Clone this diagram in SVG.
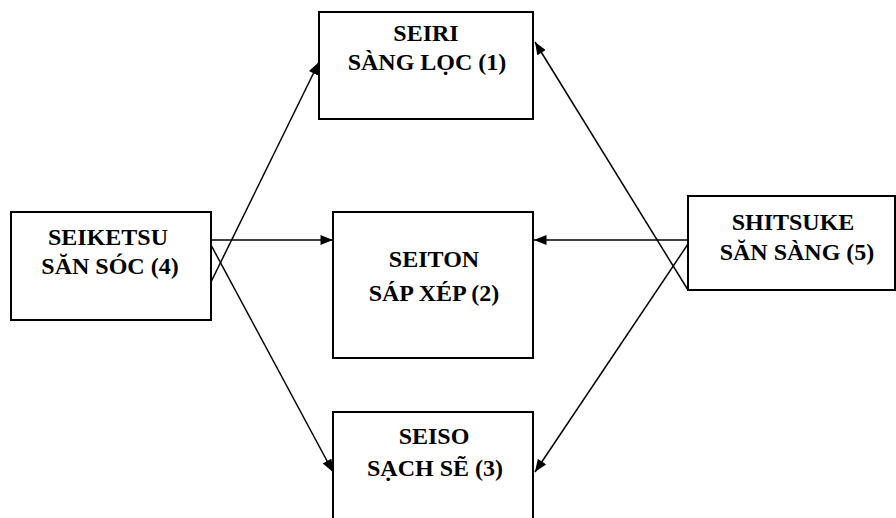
<svg xmlns="http://www.w3.org/2000/svg" width="896" height="518" viewBox="0 0 896 518">
  <style>
    .box { fill: #ffffff; stroke: #000000; stroke-width: 2; }
    .lbl { font-family: "Liberation Serif", "Times New Roman", serif; font-weight: bold; font-size: 24px; fill: #000000; text-anchor: middle; }
    .edge { stroke: #000000; stroke-width: 1.5; fill: none; marker-end: url(#head); }
  </style>
  <defs>
    <marker id="head" viewBox="0 0 10 8" refX="10" refY="4" markerUnits="userSpaceOnUse" markerWidth="13" markerHeight="10" orient="auto">
      <path d="M0,0 L10,4 L0,8 Z" fill="#000000"/>
    </marker>
  </defs>
  <rect width="896" height="518" fill="#ffffff"/>

  <g id="connectors">
    <line class="edge" x1="211" y1="240" x2="333" y2="240"/>
    <line class="edge" x1="688" y1="240" x2="534" y2="240"/>
    <line class="edge" x1="211" y1="282" x2="319" y2="62"/>
    <line class="edge" x1="211" y1="245" x2="333" y2="472"/>
    <line class="edge" x1="688" y1="290" x2="535" y2="42"/>
    <line class="edge" x1="688" y1="244" x2="535" y2="472"/>
  </g>

  <g id="seiri">
    <rect class="box" x="319" y="12" width="214" height="107"/>
    <text class="lbl" x="426" y="41">SEIRI</text>
    <text class="lbl" x="427" y="70">SÀNG LỌC (1)</text>
  </g>

  <g id="seiton">
    <rect class="box" x="333" y="212" width="200" height="146"/>
    <text class="lbl" x="434" y="267">SEITON</text>
    <text class="lbl" x="434" y="301">SÁP XÉP (2)</text>
  </g>

  <g id="seiso">
    <rect class="box" x="333" y="412" width="200" height="120"/>
    <text class="lbl" x="434" y="444">SEISO</text>
    <text class="lbl" x="435" y="476">SẠCH SẼ (3)</text>
  </g>

  <g id="seiketsu">
    <rect class="box" x="11" y="212" width="200" height="108"/>
    <text class="lbl" x="108" y="245">SEIKETSU</text>
    <text class="lbl" x="110" y="274">SĂN SÓC (4)</text>
  </g>

  <g id="shitsuke">
    <rect class="box" x="688" y="196" width="207" height="94"/>
    <text class="lbl" x="793" y="230">SHITSUKE</text>
    <text class="lbl" x="797" y="260">SĂN SÀNG (5)</text>
  </g>
</svg>
